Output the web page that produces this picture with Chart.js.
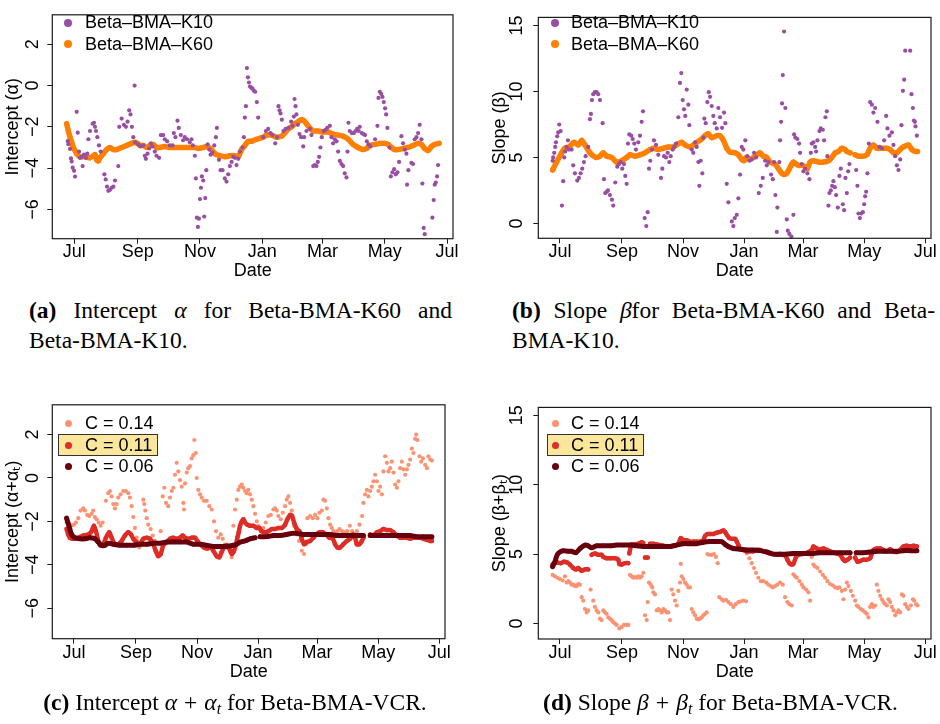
<!DOCTYPE html>
<html><head><meta charset="utf-8">
<script src="https://cdn.jsdelivr.net/npm/chart.js@4.4.1/dist/chart.umd.min.js"></script>
<style>
html,body{margin:0;padding:0;background:#fff}
body{width:940px;height:724px;position:relative;overflow:hidden;font-family:"Liberation Sans",Arial,sans-serif}
canvas{position:absolute}
.lt{position:absolute;font-size:18px;line-height:22px;color:#000;white-space:nowrap}
.dot{position:absolute;border-radius:50%}
.hl{position:absolute;background:#fae79c;border:1px solid #333;box-sizing:border-box}
.cap{position:absolute;font-family:"Liberation Serif","Times New Roman",serif;font-size:23.5px;line-height:30px;color:#000;white-space:nowrap}
.just{text-align:justify;text-align-last:justify;white-space:normal}
.cap i{font-style:italic}
.op{padding:0 .3em}
.cap sub{font-size:16px;font-style:italic;vertical-align:-4px;line-height:0}
</style></head><body>
<canvas id="ca" width="470" height="290" style="left:0;top:0"></canvas>
<canvas id="cb" width="470" height="290" style="left:470px;top:0"></canvas>
<canvas id="cc" width="470" height="300" style="left:0;top:390px"></canvas>
<canvas id="cd" width="470" height="300" style="left:470px;top:390px"></canvas>

<!-- legends -->
<div class="dot" style="left:64px;top:18.7px;width:8px;height:8px;background:#984ea3"></div>
<div class="lt" style="left:85px;top:11.4px">Beta–BMA–K10</div>
<div class="dot" style="left:64px;top:40.3px;width:8px;height:8px;background:#ff7f00"></div>
<div class="lt" style="left:85px;top:33px">Beta–BMA–K60</div>

<div class="dot" style="left:551px;top:19.3px;width:8px;height:8px;background:#984ea3"></div>
<div class="lt" style="left:571px;top:11.4px">Beta–BMA–K10</div>
<div class="dot" style="left:551px;top:40.3px;width:8px;height:8px;background:#ff7f00"></div>
<div class="lt" style="left:571px;top:33px">Beta–BMA–K60</div>

<div class="hl" style="left:58px;top:434px;width:100px;height:22px"></div>
<div class="dot" style="left:64.8px;top:419.8px;width:7px;height:7px;background:#fc9272"></div>
<div class="lt" style="left:85px;top:412px">C = 0.14</div>
<div class="dot" style="left:64.8px;top:441.5px;width:7px;height:7px;background:#de2d26"></div>
<div class="lt" style="left:85px;top:433.7px">C = 0.11</div>
<div class="dot" style="left:64.8px;top:463.2px;width:7px;height:7px;background:#67000d"></div>
<div class="lt" style="left:85px;top:455.4px">C = 0.06</div>

<div class="hl" style="left:547px;top:434px;width:97px;height:22px"></div>
<div class="dot" style="left:551.5px;top:419.8px;width:7px;height:7px;background:#fc9272"></div>
<div class="lt" style="left:571px;top:412px">C = 0.14</div>
<div class="dot" style="left:551.5px;top:441.5px;width:7px;height:7px;background:#de2d26"></div>
<div class="lt" style="left:571px;top:433.7px">C = 0.11</div>
<div class="dot" style="left:551.5px;top:463.2px;width:7px;height:7px;background:#67000d"></div>
<div class="lt" style="left:571px;top:455.4px">C = 0.06</div>

<!-- captions -->
<div class="cap just" style="left:29px;top:295.4px;width:423px"><b>(a)</b> Intercept <i>α</i> for Beta-BMA-K60 and</div>
<div class="cap" style="left:29px;top:325.4px">Beta-BMA-K10.</div>
<div class="cap just" style="left:512px;top:295.4px;width:423px"><b>(b)</b> Slope <i>β</i>for Beta-BMA-K60 and Beta-</div>
<div class="cap" style="left:512px;top:325.4px">BMA-K10.</div>
<div class="cap" style="left:0;top:687px;width:470px;text-align:center"><b>(c)</b> Intercept <i>α</i><span class="op">+</span><i>α</i><sub>t</sub> for Beta-BMA-VCR.</div>
<div class="cap" style="left:485.5px;top:687px;width:470px;text-align:center"><b>(d)</b> Slope <i>β</i><span class="op">+</span><i>β</i><sub>t</sub> for Beta-BMA-VCR.</div>

<script>
// ---------- axes ----------
const monthTicks = [0, 62, 123, 184, 243, 304, 365];   // days after 1 Jul
const monthLabels = ['Jul', 'Sep', 'Nov', 'Jan', 'Mar', 'May', 'Jul'];
const interceptTicks = [-6, -4, -2, 0, 2];
const slopeTicks = [0, 5, 10, 15];

// ---------- data: [day after 1 Jul, value] ----------
const aK10 = [[-6.5,-2.69],[-5.9,-2.84],[-4.2,-3.07],[-3.3,-3.53],[-2.6,-3.68],[-1.6,-3.98],[-0.3,-4.13],[0.7,-4.41],[2.3,-1.27],[3.3,-2.28],[4.6,-3.2],[5.5,-3.5],[7.2,-3.45],[8.1,-3.9],[9.5,-3.35],[11.4,-3.5],[12.7,-3.3],[13.7,-2.6],[15.3,-2.2],[17.9,-1.85],[19.2,-1.8],[20.2,-2.0],[21.2,-2.2],[22.5,-2.5],[24.1,-2.9],[25.8,-3.2],[29.4,-4.3],[30.7,-4.55],[32,-4.9],[33.3,-5.1],[34.9,-5.05],[36.5,-4.95],[38.2,-4.9],[39.8,-4.6],[43,-3.9],[44,-2.0],[46.3,-1.6],[48.5,-1.9],[50.5,-2.0],[52.1,-1.75],[53.7,-1.2],[55,-1.4],[56.4,-2.0],[57.7,-2.5],[59,0.0],[59.6,-2.75],[62.5,-2.85],[64.8,-2.95],[67.4,-2.9],[69,-3.4],[70,-3.55],[71.7,-3.3],[73.3,-3.05],[74.9,-2.8],[76.5,-2.95],[78.8,-3.2],[80.5,-3.4],[83,-3.5],[84.7,-2.4],[87,-2.4],[88.6,-2.6],[90.9,-2.7],[93.5,-2.9],[96.1,-2.9],[97.4,-2.3],[99,-2.5],[101,-1.7],[102.3,-2.05],[104.2,-2.4],[106.5,-2.65],[108.1,-2.5],[110.4,-2.6],[113,-2.75],[114.7,-2.6],[116,-2.9],[118,-3.4],[119,-4.5],[120,-6.4],[121,-6.85],[122,-6.45],[123,-5.5],[124,-4.95],[124.9,-4.4],[126.2,-4.6],[127.2,-6.35],[128.2,-5.45],[129.2,-4.1],[130.5,-2.85],[132.1,-3.1],[133.4,-3.35],[135,-3.25],[137,-2.9],[138.6,-2.5],[139.6,-2.05],[141.6,-3.6],[143.2,-4.1],[145.1,-4.1],[147.4,-4.5],[149,-4.65],[150.7,-4.3],[152.3,-3.9],[154,-3.7],[155.6,-3.45],[157.2,-3.5],[158.8,-3.85],[160.5,-3.55],[162.1,-3.2],[164.7,-3.0],[166,-2.5],[167,-1.55],[168,-1.0],[169,0.85],[170,0.4],[171,0.15],[172,-0.05],[173.2,-0.1],[174.5,-0.15],[175.8,-0.25],[177.1,-0.3],[178.7,-0.8],[180,-1.55],[184.9,-2.5],[187.5,-2.2],[189.8,-2.1],[192.1,-2.3],[194.1,-2.4],[196.7,-2.8],[198.6,-2.5],[199.9,-1.0],[200.9,-1.2],[201.9,-1.35],[203.2,-1.65],[204.8,-2.2],[206.8,-2.1],[209.7,-2.05],[212.3,-1.75],[213.6,-1.95],[214.9,-1.5],[215.6,-0.65],[216.6,-1.0],[217.5,-1.4],[218.9,-1.9],[220.5,-2.35],[222.1,-2.5],[224.1,-2.95],[225,-2.5],[227.3,-2.2],[230.6,-2.1],[232.2,-2.4],[233.9,-3.9],[235.5,-3.85],[237.1,-3.9],[238.4,-3.7],[239.7,-3.45],[241,-3.0],[242.3,-2.5],[244.3,-2.2],[245.9,-2.15],[247.6,-2.05],[250.2,-1.95],[251.8,-2.5],[253.4,-2.8],[255,-2.6],[256.7,-2.7],[258.3,-3.2],[260,-3.65],[261.6,-3.8],[263.2,-3.9],[264.8,-4.25],[266.5,-4.45],[267.5,-3.2],[268.4,-1.8],[269.7,-2.2],[271.7,-2.3],[273.7,-2.3],[275.3,-2.2],[276.9,-2.1],[278.5,-2.2],[279.5,-2.0],[281.5,-2.3],[283.1,-2.35],[284.7,-2.4],[286.4,-2.7],[288,-2.85],[290,-2.95],[294.5,-2.6],[296.8,-1.95],[297.8,-0.6],[299.1,-0.3],[300.4,-0.4],[301.7,-0.55],[303,-0.8],[304.3,-1.1],[305.3,-1.4],[306.6,-2.05],[308.6,-3.0],[309.9,-4.4],[311.5,-4.2],[313.2,-4.05],[314.8,-4.3],[316.4,-4.2],[318,-3.7],[320.3,-2.45],[321.9,-2.8],[323.6,-3.1],[325.2,-3.3],[325.8,-4.8],[327.1,-4.1],[330.1,-3.75],[331.7,-3.8],[333.3,-2.6],[335,-2.5],[336.6,-2.3],[338.2,-1.9],[339.9,-2.6],[340.8,-4.75],[342.1,-6.9],[343.1,-7.2],[350.6,-6.4],[351.9,-5.55],[352.9,-4.8],[353.9,-4.7],[355.2,-4.4],[356.2,-3.85]];

const aK60 = [[-7.5,-1.85],[-5.9,-2.2],[-4.2,-2.5],[-2.6,-2.75],[-1,-3.0],[0.7,-3.15],[2.3,-3.3],[5.5,-3.45],[10.4,-3.45],[15.3,-3.5],[18.6,-3.4],[20.2,-3.35],[21.9,-3.6],[23.5,-3.65],[25.1,-3.5],[28.4,-3.3],[31.6,-3.1],[34.9,-3.0],[38.2,-3.1],[41.4,-3.1],[46.3,-3.0],[51.2,-2.9],[56.1,-2.8],[59.4,-2.75],[61.6,-2.8],[64.3,-2.9],[67.5,-2.9],[70.8,-3.0],[74,-2.9],[77.3,-2.85],[80.6,-3.0],[83.8,-3.0],[88.7,-2.95],[93.6,-3.0],[100.1,-3.0],[106.7,-3.0],[113.2,-3.0],[118.1,-3.0],[121.3,-3.05],[126.2,-3.0],[129.5,-2.95],[134.4,-3.1],[137.6,-3.3],[142.5,-3.4],[147.4,-3.45],[152.3,-3.4],[157.2,-3.4],[160.5,-3.45],[163.7,-3.1],[167,-2.9],[170.3,-2.7],[173.5,-2.7],[178.4,-2.6],[181.7,-2.55],[184.9,-2.5],[188.2,-2.4],[193.1,-2.4],[198,-2.5],[202.9,-2.45],[206.1,-2.3],[209.4,-2.1],[212.7,-2.0],[215.9,-1.85],[219.2,-1.75],[222.4,-1.65],[224.7,-1.7],[227.3,-1.85],[230.6,-2.05],[233.9,-2.2],[238.7,-2.2],[243.6,-2.25],[248.5,-2.25],[253.4,-2.35],[258.3,-2.4],[263.2,-2.45],[268.1,-2.6],[273,-2.85],[277.9,-3.0],[282.8,-3.1],[286,-3.05],[289.3,-2.9],[294.2,-2.85],[299.1,-2.8],[304,-2.8],[307.2,-2.85],[310.5,-3.0],[313.8,-3.1],[317,-3.1],[321.9,-3.05],[326.8,-3.0],[331.7,-2.9],[336.6,-2.8],[339.9,-2.85],[343.1,-3.05],[346.4,-3.15],[349.6,-2.95],[352.9,-2.85],[357.2,-2.8]];

const bK10 = [[-7.3,4.75],[-6.7,5.0],[-5.7,5.35],[-4.7,5.8],[-4,6.15],[-2.7,6.6],[-1.7,6.9],[-0.7,7.5],[0.7,7.0],[2,1.35],[3.3,3.2],[4.3,5.0],[5.3,5.45],[6.7,5.8],[8,6.3],[9,5.6],[11.7,5.6],[13.3,4.4],[15,3.8],[17.3,3.25],[19,3.45],[20.7,3.8],[22.3,4.15],[24,4.65],[25.7,5.1],[28.3,5.8],[30,7.9],[31,8.3],[32,9.35],[33.3,9.8],[35,9.95],[36.7,9.95],[38.3,9.8],[40,9.35],[42.7,7.6],[44,3.35],[45.3,2.3],[46.7,2.4],[48,2.5],[50,2.15],[52,1.8],[53.3,1.35],[55.3,3.1],[57.3,4.3],[59,4.5],[60.7,4.65],[62.3,4.15],[64,4.5],[65.3,3.6],[66.7,3.0],[68,6.05],[69.3,6.75],[71.3,6.65],[72.7,6.4],[74.3,6.05],[76,5.6],[78.3,6.15],[80,6.65],[81.7,7.7],[83,8.5],[84.7,0.4],[86.3,-0.2],[87.7,0.85],[89,4.15],[90.3,4.75],[92,5.6],[94,6.3],[96,5.95],[98.3,5.2],[101,3.45],[102.3,4.15],[104,5.1],[106,5.0],[107.7,5.35],[109.3,4.65],[110.7,5.1],[112.7,5.6],[114.3,5.8],[116,6.05],[118.3,8.05],[120,10.65],[121.3,11.4],[122.7,9.35],[124,8.65],[125.3,8.15],[126.7,10.15],[128.3,9.0],[129.3,7.45],[131.7,5.6],[133.3,5.35],[135,6.15],[136.7,5.8],[138.3,4.65],[139.3,2.85],[140.7,4.75],[142.3,3.8],[143.3,6.5],[144.3,7.95],[145.7,7.6],[147.3,9.2],[148.7,9.95],[150,9.6],[151.7,8.9],[153.3,8.15],[154.7,7.6],[156.7,7.2],[158.3,8.75],[160,8.05],[162,7.25],[164,8.4],[165.3,7.6],[166.7,3.0],[168.3,1.6],[171.7,0.15],[173.3,-0.2],[174.7,0.4],[176.7,0.65],[178.3,1.9],[180,3.7],[181.7,5.8],[183.3,5.6],[185.3,6.3],[187.3,5.1],[189.3,4.75],[191.7,4.85],[194,5.35],[196,5.0],[198.7,2.3],[200.7,2.85],[202.7,3.45],[205,4.75],[206.7,4.4],[208.3,4.65],[211,3.7],[212.7,3.35],[214,4.65],[215.3,2.15],[216.7,-0.65],[217.3,1.2],[219.3,4.65],[220,6.3],[221,7.7],[222,9.1],[222.7,11.25],[224,14.55],[225.3,8.75],[226.7,0.3],[227.7,-0.55],[229.3,-0.8],[231.3,-1.0],[233.3,0.65],[234,6.75],[235.3,6.5],[237.3,6.4],[239,6.05],[240,5.35],[241.7,4.5],[243.3,3.95],[245,4.15],[247.3,3.8],[249.3,3.35],[250.7,5.35],[251.7,6.05],[253.3,6.15],[255,5.8],[256,5.45],[257.3,6.3],[259.3,7.0],[260.7,7.2],[262.7,7.1],[264,6.3],[265.3,8.05],[266.7,8.5],[267.3,5.1],[268.3,1.35],[269.3,2.3],[270.7,2.5],[272,2.85],[273.3,3.2],[274.7,2.75],[276,2.15],[277.7,1.2],[279.3,3.6],[280.7,4.15],[282.7,1.45],[284,1.0],[285.3,3.45],[286.7,2.3],[288,3.95],[289.3,4.5],[296,4.05],[297.3,2.85],[298.3,0.75],[299.7,0.4],[301,0.75],[302.7,0.85],[304,1.45],[305,2.05],[306,2.4],[307.3,3.8],[308.7,6.05],[310,9.2],[311.7,9.0],[313.3,8.4],[315,8.75],[317.3,7.7],[319.3,5.8],[321.7,5.7],[324,6.3],[326,8.15],[327.3,7.2],[329.3,6.65],[331.7,6.9],[333.3,5.95],[335,5.1],[336.7,4.4],[338.3,4.05],[340,4.85],[341.3,7.45],[342.7,10.05],[344,10.9],[345,13.1],[350,13.1],[351.3,9.8],[352.7,8.75],[353.7,7.8],[354.7,7.7],[355.3,7.35],[356.7,6.65]];

const bK60 = [[-7.3,4.05],[-3.3,4.65],[1.7,5.35],[5,5.7],[9.3,5.8],[14,6.15],[18.3,5.95],[21.7,6.3],[25,5.95],[30,5.35],[36,5.0],[40,5.1],[43.3,5.35],[46.7,5.1],[51.7,5.0],[56.7,4.65],[61.7,4.75],[66.7,5.0],[70,5.2],[75,5.1],[80,5.2],[85,5.35],[90,5.6],[93.3,5.7],[98.3,5.6],[103.3,5.7],[108.3,5.8],[113.3,5.8],[118.3,6.05],[121.7,6.15],[125,5.95],[130,5.8],[136.7,6.15],[141.7,6.4],[145,6.65],[148.3,6.8],[151.7,6.5],[156.7,6.65],[160,6.65],[163.3,6.3],[166.7,5.7],[170,5.4],[175,5.35],[178.3,5.2],[181.7,4.85],[184,4.75],[186,5.0],[190,4.85],[193.3,5.0],[196.7,5.2],[200,5.35],[203.3,5.1],[206.7,5.0],[210,4.65],[215,4.5],[218.3,4.15],[221.7,3.8],[224,3.7],[226.7,3.8],[229.3,4.15],[231.7,4.5],[233.3,4.65],[236,4.5],[238.3,4.4],[241.7,4.4],[245,4.3],[247.3,4.15],[250,4.65],[253.3,4.75],[258.3,4.65],[263.3,4.65],[268.3,4.75],[271.7,5.0],[275,5.35],[278.3,5.45],[281.7,5.7],[285,5.6],[286.7,5.45],[290,5.35],[292,null],[295,5.2],[298.3,5.1],[303.3,5.1],[306.7,5.2],[310,5.7],[313.3,5.95],[316.7,5.7],[321.7,5.7],[326.7,5.7],[330,5.6],[333.3,5.35],[336.7,5.35],[340,5.6],[343.3,5.8],[348.3,5.95],[351.7,5.6],[355,5.45],[357.3,5.45]];

const cC14 = [[-7.3,-2.05],[-5.7,-2.3],[-4,-2.15],[-2.3,-2.2],[0,-2.15],[2,-2.05],[4.3,-1.85],[6.7,-1.5],[9.3,-1.4],[11,-1.5],[13.3,-1.7],[15.3,-1.75],[17.7,-1.65],[19.3,-1.5],[21,-1.8],[22.7,-1.9],[24.7,-2.05],[26.7,-2.2],[28.7,-2.05],[32,-1.05],[34.3,-0.7],[36,-0.6],[37.7,-0.85],[39.3,-1.2],[41,-1.4],[42.7,-1.2],[44.3,-0.9],[46.7,-0.75],[49.3,-0.6],[52,-0.6],[54.3,-0.7],[56,-0.9],[57.7,-1.3],[59.3,-1.8],[61,-2.3],[62.7,-2.75],[64.3,-3.05],[65.3,-3.2],[67.7,-2.9],[69.3,-1.0],[70.3,-1.2],[71.3,-1.5],[72.7,-1.85],[74.3,-2.15],[76.7,-2.35],[78.7,-2.65],[81,-2.9],[82.7,-3.4],[86.7,-2.45],[88.7,-0.85],[90.3,-0.45],[92,-1.15],[94.3,-1.3],[96,-0.9],[97.7,-0.6],[99.3,-0.45],[101,0.15],[102.7,0.7],[104.3,0.3],[106,-0.1],[107.7,-0.4],[109.3,-1.15],[110,-1.45],[111,-0.25],[112.7,0.25],[114.3,0.45],[116,0.55],[117.7,0.9],[119.3,1.05],[120.3,1.75],[121.7,1.15],[122.7,0],[124.3,-0.55],[126,-0.75],[127.7,-0.9],[130,-1.05],[132.7,-1.05],[135.3,-1.3],[137.7,-1.45],[140,-2.0],[142,-2.45],[144.3,-2.75],[146.7,-2.6],[148.7,-2.8],[151,-3.05],[153.3,-3.2],[156,-3.4],[157.7,-3.65],[159.3,-2.2],[161,-1.45],[162.7,-1.0],[164.3,-0.55],[166,-0.4],[167.7,-0.3],[169.3,-0.45],[171,-0.6],[172.7,-0.7],[174.3,-0.55],[176,-0.75],[177.7,-1.0],[179.3,-1.3],[181,-1.65],[182.7,-2.0],[184.3,-2.2],[186.7,-2.45],[189.3,-2.3],[191.7,-2.05],[194.3,-1.75],[196.7,-1.7],[199.3,-1.45],[201,-1.4],[202.7,-1.5],[204.3,-1.75],[206.7,-1.9],[208.7,-1.6],[211,-1.3],[212.7,-1.0],[214.3,-0.85],[216,-1.15],[217.7,-1.5],[220,-2.2],[222.7,-2.6],[225,-2.9],[227.7,-3.35],[230,-3.5],[232,-3.05],[233.3,-1.85],[236,-1.75],[238.7,-1.85],[241,-1.7],[243.3,-1.85],[245.3,-1.6],[247.7,-1.5],[249.3,-1.0],[251,-1.05],[252.7,-1.4],[254.3,-1.85],[256,-2.15],[257.7,-2.3],[259.3,-2.45],[261,-2.6],[263.3,-2.45],[265.3,-2.35],[268,-2.45],[270.3,-2.5],[273,-2.45],[275.7,-2.2],[278,-2.45],[280,-2.6],[282.7,-2.45],[285.3,-2.15],[288,-1.75],[289.3,-1.15],[291,-0.75],[292.7,-0.55],[294.3,-0.85],[296,-0.6],[297.7,-0.4],[299.3,-0.15],[301,0.15],[302.7,-0.15],[304.3,-0.6],[306,-0.4],[307.7,-0.75],[309.3,0.3],[311,1.0],[312.7,0.7],[314.3,0.3],[316,0.45],[317.7,0.75],[319.3,0.25],[321,-0.3],[322.7,-0.45],[324.3,-0.15],[326,0.45],[327.7,0.75],[329.3,0.4],[331,0.15],[332.7,0.4],[334.3,0.6],[336,0.85],[337.7,1.35],[339.3,1.15],[341,1.8],[342,2.0],[343.3,1.75],[345.3,1.0],[347,0.75],[348.7,0.9],[351,0.6],[352.7,0.45],[354.3,1.0],[356,0.85],[357.7,0.8]];

const cC11 = [[-7.3,-2.35],[-5.7,-2.6],[-4,-2.75],[-0.7,-2.8],[4.3,-2.75],[9.3,-2.65],[14.3,-2.6],[17.7,-2.45],[20,-2.2],[22,-2.45],[24.3,-2.9],[26,-3.1],[29.3,-3.05],[32,-2.75],[35.3,-2.5],[37.7,-2.75],[41,-3.05],[44.3,-3.05],[47.7,-2.9],[51,-2.65],[54.3,-2.5],[57,-2.6],[59.3,-2.8],[62.7,-2.95],[66,-3.05],[69.3,-2.8],[72.7,-2.75],[76,-2.8],[79.3,-3.05],[81.7,-3.35],[84.3,-3.6],[86.7,-3.5],[89.3,-3.1],[92.7,-2.95],[96,-2.8],[99.3,-2.75],[102.7,-2.8],[106,-2.75],[108.7,-2.65],[111,-2.75],[114.3,-2.8],[117.7,-2.75],[121,-2.75],[123.3,-2.9],[126,-3.05],[130,-3.2],[133.3,-3.25],[136.7,-3.2],[139.3,-3.35],[142.7,-3.6],[145.3,-3.65],[147.7,-3.4],[150,-3.2],[152.7,-3.1],[155.3,-3.25],[157.7,-3.5],[160,-3.35],[162,-3.05],[163.3,-2.75],[164.7,-2.5],[166,-2.2],[167.7,-2.0],[169.3,-1.9],[171,-2.05],[173.3,-2.15],[176,-2.2],[179.3,-2.2],[182.7,-2.3],[185.3,-2.3],[187.7,-2.45],[191,-2.5],[194.3,-2.45],[197.7,-2.35],[201,-2.35],[204.3,-2.3],[207.7,-2.3],[211,-2.15],[213.3,-1.9],[216,-1.7],[218,-1.75],[220,-2.05],[222.7,-2.35],[225.3,-2.45],[227.7,-2.8],[230,-3.05],[232.7,-2.95],[236,-2.9],[239.3,-2.75],[242,-2.6],[245.3,-2.5],[248.7,-2.5],[252,-2.6],[255.3,-2.75],[258.7,-2.8],[261,-3.05],[263.3,-3.2],[266,-3.2],[269.3,-3.05],[272.7,-2.9],[276,-2.8],[278.7,-2.6],[281,-2.75],[282.7,-3.05],[285.3,-3.05],[287.7,-2.9],[289.3,-2.75],[292,null],[296,-2.6],[299.3,-2.65],[302.7,-2.5],[306,-2.45],[309.3,-2.35],[312.7,-2.4],[316,-2.4],[319.3,-2.5],[322.7,-2.65],[326,-2.75],[329.3,-2.75],[332.7,-2.75],[336,-2.8],[339.3,-2.75],[342.7,-2.75],[346,-2.75],[349.3,-2.8],[352.7,-2.85],[356,-2.9],[357.7,-2.9]];

const cC06 = [[-7.3,-1.85],[-5,-2.2],[-2.3,-2.6],[1,-2.75],[6,-2.8],[11,-2.8],[16,-2.75],[21,-2.8],[24.3,-2.95],[27.7,-3.1],[31,-3.1],[34.3,-3.0],[39.3,-3.05],[46,-3.1],[52.7,-3.1],[59.3,-3.1],[66,-3.05],[72.7,-3.05],[79.3,-3.0],[86,-3.0],[92.7,-2.95],[99.3,-2.95],[106,-2.95],[112.7,-2.95],[119.3,-3.05],[126,-3.05],[132.7,-3.1],[139.3,-3.15],[146,-3.15],[152.7,-3.15],[159.3,-3.1],[162.7,-3.05],[166,-2.95],[171,-2.9],[176,-2.8],[181,-2.75],[183,null],[186,-2.7],[192.7,-2.7],[199.3,-2.65],[206,-2.65],[212.7,-2.6],[217.7,-2.55],[222.7,-2.55],[229.3,-2.6],[236,-2.6],[242.7,-2.6],[249.3,-2.6],[256,-2.6],[262.7,-2.65],[269.3,-2.65],[276,-2.65],[282.7,-2.65],[289.3,-2.65],[292,null],[296,-2.65],[302.7,-2.65],[309.3,-2.65],[316,-2.65],[322.7,-2.65],[329.3,-2.65],[336,-2.65],[342.7,-2.7],[349.3,-2.7],[357.7,-2.7]];

const dC14 = [[-7.3,3.5],[-5,3.4],[-2.7,3.3],[0,3.2],[2.7,3.1],[5,3.4],[6.7,2.95],[8.3,3.05],[10,2.95],[11.7,2.8],[13.3,2.8],[15,2.7],[16.7,2.7],[18.3,2.85],[20,2.8],[21.7,1.9],[23.3,1.65],[25,1.05],[26.7,0.8],[28.3,0.95],[30.7,2.45],[33.3,1.65],[35,1.2],[36.7,0.95],[38.3,0.8],[40,0.35],[41.7,0.25],[43.3,0.95],[45,0.8],[46.7,0.7],[48.3,0.45],[50,0.35],[51.7,0.25],[53.3,0.1],[55,0.0],[56.7,-0.1],[59.3,-0.35],[61.7,-0.25],[64,-0.1],[66.7,-0.1],[68.3,-0.1],[70,3.5],[71.7,3.4],[73.3,3.3],[75,3.35],[76.7,3.3],[78.3,3.4],[80,3.3],[81.7,3.4],[83.3,3.65],[85,0.6],[86.7,0.25],[87.7,1.55],[89,2.95],[90.7,2.8],[92.3,2.6],[93.3,2.25],[95,2.1],[96.7,0.95],[98.3,1.05],[100,0.95],[101.7,0.8],[103.3,1.05],[105,0.95],[106.7,0.8],[108.3,0.8],[110,0.25],[111.7,2.45],[113.3,2.1],[115,1.65],[116.7,1.3],[118.3,2.35],[120,2.95],[120.7,4.3],[121.7,3.4],[123.3,3.2],[125,2.95],[126.7,2.8],[128.3,2.6],[130,2.6],[131.7,1.05],[133.3,0.8],[135,0.6],[136.7,0.35],[138.3,0.3],[140,0.35],[141.7,0.45],[143.3,0.6],[145,0.7],[146.7,0.8],[147.3,5.0],[149.3,4.95],[151.7,4.95],[154,5.0],[156,4.8],[157.7,4.35],[159.3,1.9],[161.7,1.75],[163.3,1.65],[166,1.7],[168.3,1.55],[170.7,1.4],[173.3,1.2],[175.7,1.4],[178.3,1.55],[180.7,1.6],[183.3,1.65],[186,1.6],[186.7,5.05],[189.3,4.7],[191.7,4.35],[194,4.0],[196,3.65],[198.3,3.3],[200.7,3.05],[203.3,3.05],[206,2.95],[208.3,2.8],[210.7,2.7],[212.7,2.6],[215,2.7],[217.3,2.8],[220,2.95],[222.7,2.8],[225,1.9],[227.3,1.55],[229.3,1.4],[231.7,1.3],[233.3,3.55],[235,3.4],[236.7,3.3],[239.3,3.05],[241.7,2.8],[243.3,2.6],[246,2.45],[248.3,2.25],[250,1.65],[251.7,4.8],[253.3,4.25],[255,4.1],[257.3,4.0],[260,3.75],[262.7,3.5],[265,3.3],[267.3,3.05],[270,2.85],[272.7,2.75],[275,2.6],[277.3,2.55],[279.3,2.6],[281.7,2.35],[283.3,1.75],[285,2.45],[286.7,2.95],[288.3,2.7],[290.7,2.35],[292.7,2.0],[295,1.65],[296.7,1.3],[298.3,1.2],[300.7,1.05],[302.7,0.95],[305,0.8],[306.7,0.7],[308.3,0.45],[310,1.2],[311.7,1.4],[313.3,1.2],[315,1.3],[316.7,2.8],[318.3,2.35],[320,2.0],[321.7,1.75],[323.3,1.55],[325,1.4],[326.7,1.3],[328.3,1.75],[330,1.55],[331.7,1.2],[333.3,0.95],[335,0.6],[336.7,0.8],[338.3,0.95],[340,0.8],[341.7,2.1],[343.3,2.0],[345,1.4],[346.7,1.2],[348.3,1.05],[350.7,1.3],[352.7,1.75],[354,1.65],[356,1.4],[357.3,1.3]];

const dC11 = [[-7.3,4.25],[-5,4.35],[-2.7,4.4],[0.7,4.35],[4,4.45],[7.3,4.4],[10,4.25],[13.3,4.0],[16,3.9],[18.3,4.0],[21.7,3.8],[25,3.9],[28.3,3.9],[30.5,null],[31.7,4.95],[35,5.05],[38.3,4.95],[41.7,4.95],[43.3,4.8],[46.7,4.7],[50,4.7],[55,4.7],[58.3,4.6],[59.3,4.3],[61.7,4.25],[65,4.35],[68.3,4.35],[68.8,null],[69.3,5.05],[71.7,5.7],[75,5.7],[78.3,5.75],[81.7,5.85],[83.3,5.8],[84,null],[85,4.75],[87.7,4.75],[89,null],[90,5.75],[93.3,5.75],[96.7,5.7],[100,5.65],[103.3,5.6],[108.3,5.55],[113.3,5.6],[118.3,5.75],[120.7,6.15],[123.3,6.0],[126.7,6.0],[130,5.9],[133.3,5.9],[136.7,5.9],[140,5.9],[143.3,6.0],[145,6.3],[147.3,6.45],[150,6.45],[153.3,6.45],[156.7,6.55],[160,6.6],[163.3,6.7],[165,6.6],[166.7,6.4],[169.3,6.15],[171.7,6.1],[175,6.1],[176.7,5.9],[178.3,5.65],[180,5.4],[183.3,5.3],[186.7,5.2],[190,5.2],[193.3,5.2],[196.7,5.3],[200,5.3],[203.3,5.2],[206.7,5.15],[210,5.05],[213.3,5.0],[216.7,4.95],[220,4.95],[225,4.9],[227.3,4.6],[229.3,4.35],[231.7,4.25],[233.3,4.3],[236,4.8],[238.3,4.95],[241.7,5.0],[245,5.05],[248.3,5.15],[251.7,5.3],[253.3,5.55],[256.7,5.4],[260,5.35],[263.3,5.4],[266.7,5.3],[270,5.2],[273.3,5.1],[276.7,5.05],[280,4.95],[282.7,4.65],[285,4.5],[287.3,4.6],[290,4.75],[292.5,null],[295,4.75],[297.3,4.45],[300,4.5],[303.3,4.6],[306.7,4.6],[310,4.7],[313.3,5.3],[316.7,5.4],[320,5.4],[323.3,5.3],[326.7,5.2],[330,5.35],[333.3,5.2],[336.7,5.15],[340,5.3],[343.3,5.55],[346.7,5.6],[350,5.55],[353.3,5.6],[356.7,5.55]];

const dC06 = [[-7.3,4.1],[-5,4.45],[-2.7,4.95],[0,5.15],[3.3,5.25],[8.3,5.2],[11.7,5.2],[16,5.1],[20,5.4],[25,5.65],[28.3,5.6],[31.7,5.45],[36.7,5.6],[43.3,5.6],[50,5.6],[56.7,5.65],[63.3,5.65],[70,5.65],[76.7,5.6],[83.3,5.55],[90,5.55],[96.7,5.55],[103.3,5.55],[110,5.55],[116.7,5.65],[123.3,5.75],[130,5.75],[136.7,5.75],[143.3,5.85],[150,5.9],[156.7,5.9],[161.7,5.9],[165,5.7],[168.3,5.55],[173.3,5.4],[180,5.35],[186.7,5.3],[193.3,5.3],[200,5.25],[206.7,5.15],[213.3,5.0],[220,5.0],[226.7,5.0],[233.3,5.05],[240,5.05],[246.7,5.05],[253.3,5.05],[260,5.1],[266.7,5.1],[273.3,5.1],[280,5.1],[286.7,5.1],[290,5.1],[293,null],[296,5.1],[303.3,5.1],[310,5.15],[316.7,5.2],[323.3,5.2],[330,5.2],[336.7,5.2],[343.3,5.25],[350,5.25],[356.7,5.25]];

// ---------- colours ----------
const COL = {k10:'#984ea3', k60:'#ff7f00', c14:'#fc9272', c11:'#de2d26', c06:'#67000d'};

Chart.defaults.font.family = '"Liberation Sans", Arial, sans-serif';
Chart.defaults.color = '#000';

const pts = arr => arr.map(p => ({x: p[0], y: p[1]}));
const fmt = v => v < 0 ? '\u2212' + Math.abs(v) : String(v);

function dots(label, arr, color, r){
  return {label, data: pts(arr), showLine:false, pointRadius:r, pointHoverRadius:r,
          pointBackgroundColor:color, pointBorderWidth:0, backgroundColor:color, borderColor:color};
}
function trail(label, arr, color, w, r){
  return {label, data: pts(arr), showLine:true, spanGaps:false, borderColor:color, borderWidth:w,
          tension:0.25, pointRadius:r, pointHoverRadius:r, pointBackgroundColor:color,
          pointBorderWidth:0, backgroundColor:color, borderCapStyle:'round', borderJoinStyle:'round'};
}

const boxPlugin = {id:'box', afterDraw(chart){
  const {ctx, chartArea:a} = chart;
  ctx.save(); ctx.strokeStyle = '#1a1a1a'; ctx.lineWidth = 1.2;
  ctx.strokeRect(a.left, a.top, a.right - a.left, a.bottom - a.top);
  ctx.restore();
}};

function panel(id, c){
  const grid = {drawOnChartArea:false, drawTicks:true, tickLength:5, color:'#1a1a1a', lineWidth:1};
  new Chart(document.getElementById(id), {
    type:'scatter',
    data:{datasets:c.datasets},
    options:{
      responsive:false, animation:false, devicePixelRatio:1,
      layout:{padding:{left:0, top:c.top, right:c.right, bottom:0}},
      plugins:{legend:{display:false}, tooltip:{enabled:false}},
      scales:{
        x:{type:'linear', min:-21.6, max:370.8,
           afterBuildTicks:s => { s.ticks = monthTicks.map(v => ({value:v})); },
           afterFit:s => { s.height = c.xH; },
           ticks:{autoSkip:false, maxRotation:0, minRotation:0, padding:c.xPad, color:'#000',
                  font:{size:18}, callback:(v, i) => monthLabels[i]},
           grid, border:{display:false},
           title:{display:true, text:'Date', color:'#000', font:{size:18}, padding:{top:0, bottom:c.xTitlePad}}},
        y:{type:'linear', min:c.yMin, max:c.yMax,
           afterBuildTicks:s => { s.ticks = c.yTicks.map(v => ({value:v})); },
           afterFit:s => { s.width = c.yW; },
           ticks:{autoSkip:false, minRotation:90, maxRotation:90, crossAlign:'center', padding:c.yPad,
                  color:'#000', font:{size:18}, callback:v => fmt(v)},
           grid, border:{display:false},
           title:{display:true, text:c.yTitle, color:'#000', font:{size:18}, padding:{top:c.yTitlePad, bottom:0}}}
      }
    },
    plugins:[boxPlugin]
  });
}

panel('ca', {top:1, right:17, xH:51.3, xPad:-2.5, xTitlePad:8.5, yW:52.3, yPad:4, yTitlePad:2.2,
  yMin:-7.42, yMax:3.43, yTicks:interceptTicks, yTitle:'Intercept (α)',
  datasets:[dots('Beta–BMA–K10', aK10, COL.k10, 2.1), trail('Beta–BMA–K60', aK60, COL.k60, 5.5, 2.5)]});

panel('cb', {top:1, right:9, xH:51.7, xPad:-2.2, xTitlePad:8.5, yW:68.3, yPad:6.6, yTitlePad:19.2,
  yMin:-1.13, yMax:15.62, yTicks:slopeTicks, yTitle:'Slope (β)',
  datasets:[dots('Beta–BMA–K10', bK10, COL.k10, 2.1), trail('Beta–BMA–K60', bK60, COL.k60, 5.5, 2.5)]});

panel('cc', {top:12.7, right:25, xH:51.3, xPad:-1.5, xTitlePad:7.5, yW:52.3, yPad:4, yTitlePad:2.2,
  yMin:-7.4, yMax:3.37, yTicks:interceptTicks, yTitle:'Intercept (α+αₜ)',
  datasets:[trail('C = 0.06', cC06, COL.c06, 5, 2.2), trail('C = 0.11', cC11, COL.c11, 4.5, 2.2), dots('C = 0.14', cC14, COL.c14, 2.1)]});

panel('cd', {top:12.7, right:9, xH:51, xPad:-1.5, xTitlePad:7.5, yW:68.3, yPad:6.6, yTitlePad:19.2,
  yMin:-1.11, yMax:15.56, yTicks:slopeTicks, yTitle:'Slope (β+βₜ)',
  datasets:[trail('C = 0.06', dC06, COL.c06, 5, 2.2), trail('C = 0.11', dC11, COL.c11, 4.5, 2.2), dots('C = 0.14', dC14, COL.c14, 2.1)]});
</script>
</body></html>
